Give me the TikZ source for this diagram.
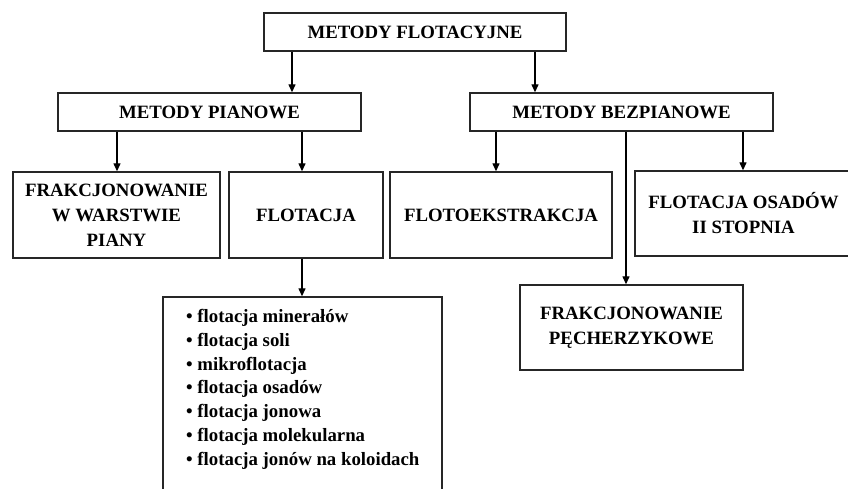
\documentclass[tikz,border=0pt]{standalone}
\usepackage{fontspec}
\setmainfont{Liberation Serif}
\usetikzlibrary{arrows.meta}
\tikzset{
    box/.style={draw=black!85, line width=1.4pt, inner sep=0pt, align=center,
        font=\bfseries\fontsize{18.8}{25}\selectfont},
    arr/.style={line width=1.3pt, -{Triangle[length=8pt,width=7pt]}},
    link/.style={line width=1.3pt}
}
\begin{document}
\begin{tikzpicture}[x=1pt, y=-1pt]
    \useasboundingbox[fill=white] (0,0) rectangle (848,488);
    \begin{scope}
    \clip (0,0) rectangle (848,488);
    % top level
    \node[box, minimum width=302pt, minimum height=38pt] (flotacyjne) at (415,32) {METODY FLOTACYJNE};
    % second level
    \node[box, minimum width=303pt, minimum height=38pt] (pianowe) at (209.5,112) {METODY PIANOWE};
    \node[box, minimum width=303pt, minimum height=38pt] (bezpianowe) at (621.5,112) {METODY BEZPIANOWE};
    % third level
    \node[box, minimum width=207pt, minimum height=86pt] (warstwa) at (116.5,215) {FRAKCJONOWANIE\\W WARSTWIE\\PIANY};
    \node[box, minimum width=154pt, minimum height=86pt] (flotacja) at (306,215) {FLOTACJA};
    \node[box, minimum width=222pt, minimum height=86pt] (ekstrakcja) at (501,215) {FLOTOEKSTRAKCJA};
    \node[box, minimum width=217pt, minimum height=85pt] (osady) at (743.5,213.5) {FLOTACJA OSADÓW\\II STOPNIA};
    \node[box, minimum width=223pt, minimum height=85pt] (pecherzyki) at (631.5,327.5) {FRAKCJONOWANIE\\PĘCHERZYKOWE};
    % list of flotation kinds
    \node[box, minimum width=279pt, minimum height=198pt] (rodzaje) at (302.5,396) {};
    \node[anchor=north west, align=left, inner sep=0pt,
        font=\bfseries\fontsize{18.8}{23.8}\selectfont] (lista) at (186,309) {%
        • flotacja minerałów\\
        • flotacja soli\\
        • mikroflotacja\\
        • flotacja osadów\\
        • flotacja jonowa\\
        • flotacja molekularna\\
        • flotacja jonów na koloidach};
    % connectors
    \draw[arr] (292,0 |- flotacyjne.south) -- (292,0 |- pianowe.north);
    \draw[arr] (535,0 |- flotacyjne.south) -- (535,0 |- bezpianowe.north);
    \draw[arr] (117,0 |- pianowe.south) -- (117,0 |- warstwa.north);
    \draw[arr] (302,0 |- pianowe.south) -- (302,0 |- flotacja.north);
    \draw[arr] (302,0 |- flotacja.south) -- (302,0 |- rodzaje.north);
    \draw[arr] (496,0 |- bezpianowe.south) -- (496,0 |- ekstrakcja.north);
    \draw[arr] (626,0 |- bezpianowe.south) -- (626,0 |- pecherzyki.north);
    \draw[arr] (743,0 |- bezpianowe.south) -- (743,0 |- osady.north);
    \end{scope}
\end{tikzpicture}
\end{document}
